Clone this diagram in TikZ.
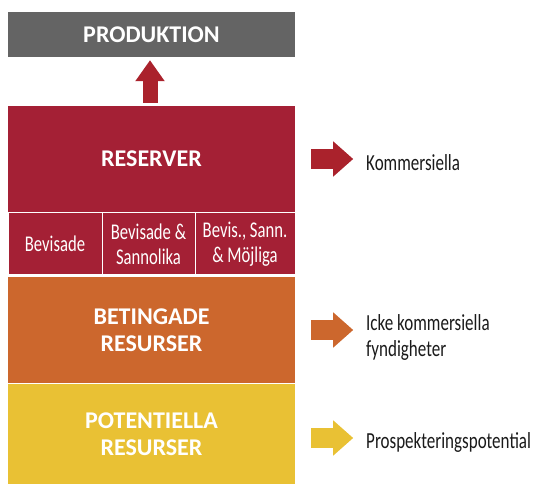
\documentclass[tikz,border=0pt]{standalone}
\usepackage{fontspec}
\setmainfont{Carlito}
\newfontfamily\narrowfont{Carlito}[FakeStretch=0.74]
\usetikzlibrary{arrows.meta,positioning}
\definecolor{ProdGray}{RGB}{100,100,100}
\definecolor{ReserveRed}{RGB}{164,32,53}
\definecolor{ArrowRed}{RGB}{170,34,44}
\definecolor{ContOrange}{RGB}{204,103,45}
\definecolor{ProspYellow}{RGB}{233,193,52}
\definecolor{LabelBlack}{RGB}{26,26,26}
\tikzset{
  tier/.style={fill=#1,minimum width=287pt,inner sep=0pt,text=white,
    align=center,font=\fontsize{24}{27}\selectfont\bfseries},
  subclass/.style={fill=ReserveRed,draw=white,line width=1pt,inner sep=0pt,
    minimum height=62pt,text=white,align=center,
    font=\narrowfont\fontsize{22.5}{25}\selectfont},
  blockarrow/.style={-{Triangle[length=20pt,width=34pt]},line width=20pt,draw=#1},
  sidelabel/.style={anchor=west,inner sep=0pt,align=left,text=LabelBlack,
    font=\narrowfont\fontsize{23}{26}\selectfont}
}
\begin{document}
\begin{tikzpicture}[x=1pt,y=1pt]
  \useasboundingbox (0,0) rectangle (537,484);
  % the four tiers
  \node[tier=ProdGray,minimum height=45pt] (prod) at (151.5,449.5) {PRODUKTION};
  \node[tier=ReserveRed,minimum height=106pt] (reserver) at (151.5,325) {RESERVER};
  \node[tier=ContOrange,minimum height=106pt] (betingade) at (151.5,154) {BETINGADE\\RESURSER};
  \node[tier=ProspYellow,minimum height=100pt] (potentiella) at (151.5,50) {POTENTIELLA\\RESURSER};
  % reserve classes
  \node[subclass,minimum width=94pt] (bev) at (55,240) {Bevisade};
  \node[subclass,minimum width=93pt] (bevsann) at (148.5,240) {Bevisade \&\\Sannolika};
  \node[subclass,minimum width=100pt] (bevsannmoj) at (245,240) {Bevis., Sann.\\\& Möjliga};
  % labels
  \node[sidelabel] (komm) at (366,321) {Kommersiella};
  \node[sidelabel] (icke) at (366,147) {Icke kommersiella\\fyndigheter};
  \node[sidelabel] (prosp) at (366,42) {Prospekteringspotential};
  % arrows
  \draw[-{Triangle[length=21pt,width=28pt]},line width=15pt,ArrowRed]
    ([xshift=-1.5pt,yshift=3pt]reserver.north) -- ([xshift=-1.5pt,yshift=-3pt]prod.south);
  \draw[blockarrow=ArrowRed] ([xshift=16pt]reserver.east) -- ([xshift=58pt]reserver.east);
  \draw[blockarrow=ContOrange] ([xshift=16pt]betingade.east) -- ([xshift=58pt]betingade.east);
  \draw[blockarrow=ProspYellow] ([xshift=16pt,yshift=-4pt]potentiella.east) -- ([xshift=58pt,yshift=-4pt]potentiella.east);
\end{tikzpicture}
\end{document}
